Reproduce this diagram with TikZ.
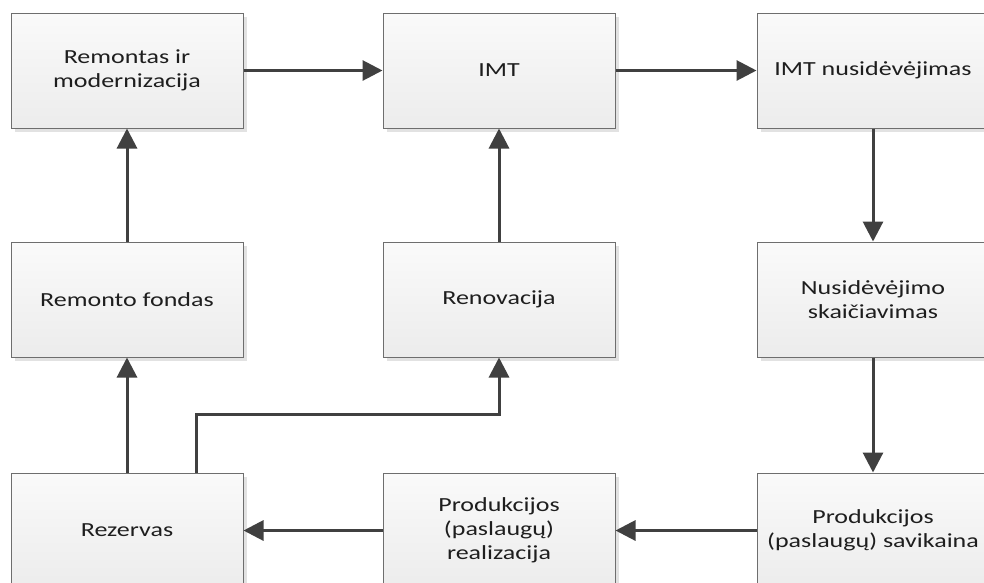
\documentclass[tikz,border=0pt]{standalone}
\usepackage{fontspec}
\newfontfamily\boxfont[FakeStretch=1.3]{Carlito}
\usetikzlibrary{arrows.meta}
\definecolor{boxborder}{HTML}{6E6E6E}
\definecolor{boxshadow}{HTML}{E2E2E2}
\definecolor{boxtop}{HTML}{FAFAFA}
\definecolor{boxbot}{HTML}{ECECEC}
\definecolor{arrowcol}{HTML}{404040}
\definecolor{textcol}{HTML}{1E1E1E}
\tikzset{
  blockbox/.style={draw=boxborder, line width=1pt, top color=boxtop, bottom color=boxbot,
    minimum width=232pt, minimum height=115pt, inner sep=0pt, align=center,
    font=\boxfont\fontsize{20}{24}\selectfont, text=textcol,
    preaction={fill=boxshadow, transform canvas={xshift=4pt,yshift=-4pt}}},
  flow/.style={draw=arrowcol, line width=3pt, -{Triangle[length=20pt,width=20pt]}}
}
\begin{document}
\begin{tikzpicture}[x=1pt,y=-1pt]
\useasboundingbox (0,0) rectangle (984,582);
\fill[white] (0,0) rectangle (984,582);
% top row
\node[blockbox] (rem) at (127,70.5) {Remontas ir\\modernizacija};
\node[blockbox] (imt) at (499,70.5) {IMT};
\node[blockbox] (nus) at (873,70.5) {IMT nusidėvėjimas};
% middle row
\node[blockbox] (fond) at (127,299.5) {Remonto fondas};
\node[blockbox] (ren) at (499,299.5) {Renovacija};
\node[blockbox] (skai) at (873,299.5) {Nusidėvėjimo\\skaičiavimas};
% bottom row
\node[blockbox] (rez) at (127,530.5) {Rezervas};
\node[blockbox] (real) at (499,530.5) {Produkcijos\\(paslaugų)\\realizacija};
\node[blockbox] (sav) at (873,530.5) {Produkcijos\\(paslaugų) savikaina};
% connectors
\draw[flow] (rem.east) -- (imt.west);
\draw[flow] (imt.east) -- (nus.west);
\draw[flow] (nus.south) -- (skai.north);
\draw[flow] (skai.south) -- (sav.north);
\draw[flow] (sav.west) -- (real.east);
\draw[flow] (real.west) -- (rez.east);
\draw[flow] (rez.north) -- (fond.south);
\draw[flow] (fond.north) -- (rem.south);
\draw[flow] (ren.north) -- (imt.south);
\draw[flow] ([xshift=69pt]rez.north) |- ([yshift=-57pt]ren.south) -- (ren.south);
\end{tikzpicture}
\end{document}
